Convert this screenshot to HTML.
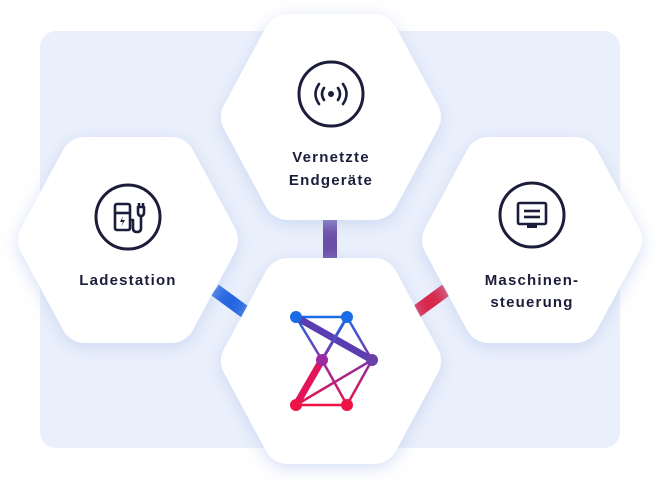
<!DOCTYPE html>
<html><head><meta charset="utf-8"><style>
html,body{margin:0;padding:0;background:#fff;}
svg{display:block}
text{font-family:"Liberation Sans",sans-serif;font-weight:bold;font-size:15px;fill:#1b1d3a;letter-spacing:1.2px;text-anchor:middle}
</style></head><body>
<svg width="668" height="488" viewBox="0 0 668 488" xmlns="http://www.w3.org/2000/svg">
<defs>
<filter id="sh" x="-30%" y="-30%" width="160%" height="160%">
<feDropShadow dx="0" dy="4" stdDeviation="8" flood-color="#b9c9f0" flood-opacity="0.6"/>
</filter>
<symbol id="hex" overflow="visible">
<polygon points="-85,0 -43,-78 43,-78 85,0 43,78 -43,78" fill="#fff" stroke="#fff" stroke-width="50" stroke-linejoin="round"/>
</symbol>
<linearGradient id="lg" x1="0" y1="317" x2="0" y2="405" gradientUnits="userSpaceOnUse">
<stop offset="0" stop-color="#1a6be6"/><stop offset="0.5" stop-color="#8a2fa8"/><stop offset="1" stop-color="#ee1346"/>
</linearGradient>
</defs>
<rect x="40" y="31" width="580" height="417" rx="16" fill="#eaf0fb"/>
<rect x="323" y="215" width="14" height="50" fill="#6a4fa8"/>
<line x1="215" y1="290" x2="245" y2="312" stroke="#2566e0" stroke-width="13"/>
<line x1="446" y1="290" x2="416" y2="312" stroke="#d9264a" stroke-width="13"/>
<g filter="url(#sh)">
<use href="#hex" x="331" y="117"/>
<use href="#hex" x="128" y="240"/>
<use href="#hex" x="532" y="240"/>
<use href="#hex" x="331" y="361"/>
</g>
<g fill="none" stroke="#1b1d3a" stroke-width="3">
<circle cx="331" cy="94" r="32"/>
<circle cx="128" cy="217" r="32"/>
<circle cx="532" cy="215" r="32"/>
</g>
<circle cx="331" cy="94" r="3" fill="#1b1d3a"/>
<g fill="none" stroke="#1b1d3a" stroke-width="2.6" stroke-linecap="round">
<path d="M324 88 q-4 6 0 12"/><path d="M338 88 q4 6 0 12"/>
<path d="M319 84 q-7 10 0 20"/><path d="M343 84 q7 10 0 20"/>
</g>
<g fill="none" stroke="#1b1d3a" stroke-width="2.6" stroke-linejoin="round">
<rect x="115" y="204" width="15" height="26" rx="2"/>
<line x1="115" y1="213" x2="130" y2="213"/>
<path d="M130 220 h3 v8 q0 4 4 4 q4 0 4 -4 v-12"/>
<path d="M138 207 h6 v5 q0 4 -3 4 q-3 0 -3 -4 z"/>
<line x1="139" y1="203" x2="139" y2="207"/><line x1="143" y1="203" x2="143" y2="207"/>
</g>
<path d="M123 216 l-3 6 h3 l-2 5 l4 -7 h-3 z" fill="#1b1d3a"/>
<g fill="none" stroke="#1b1d3a" stroke-width="2.6">
<rect x="518" y="203" width="28" height="21" rx="1.5"/>
<line x1="524" y1="211" x2="540" y2="211"/><line x1="524" y1="217" x2="540" y2="217"/>
</g>
<rect x="527" y="224" width="10" height="4" fill="#1b1d3a"/>
<text x="331" y="162">Vernetzte</text>
<text x="331" y="185">Endgeräte</text>
<text x="128" y="285">Ladestation</text>
<text x="532" y="285">Maschinen-</text>
<text x="532" y="307">steuerung</text>
<g stroke="url(#lg)" fill="none" stroke-linecap="round" stroke-width="2.5">
<line x1="296" y1="317" x2="347" y2="317" stroke="#1a6be6"/>
<line x1="296" y1="317" x2="322" y2="360"/>
<line x1="347" y1="317" x2="372" y2="360"/>
<line x1="322" y1="360" x2="347" y2="405"/>
<line x1="372" y1="360" x2="296" y2="405"/>
<line x1="372" y1="360" x2="347" y2="405"/>
<line x1="296" y1="405" x2="347" y2="405" stroke="#ee1346"/>
</g>
<line x1="296" y1="317" x2="372" y2="360" stroke="#5a3db0" stroke-width="7"/>
<line x1="347" y1="317" x2="322" y2="360" stroke="url(#lg)" stroke-width="3"/>
<line x1="322" y1="360" x2="296" y2="405" stroke="#e3145a" stroke-width="7"/>
<circle cx="296" cy="317" r="6" fill="#1a6be6"/>
<circle cx="347" cy="317" r="6" fill="#1a6be6"/>
<circle cx="322" cy="360" r="6" fill="#9a2aa0"/>
<circle cx="372" cy="360" r="6" fill="#6a40a8"/>
<circle cx="296" cy="405" r="6" fill="#ee1346"/>
<circle cx="347" cy="405" r="6" fill="#ee1346"/>
</svg>
</body></html>
